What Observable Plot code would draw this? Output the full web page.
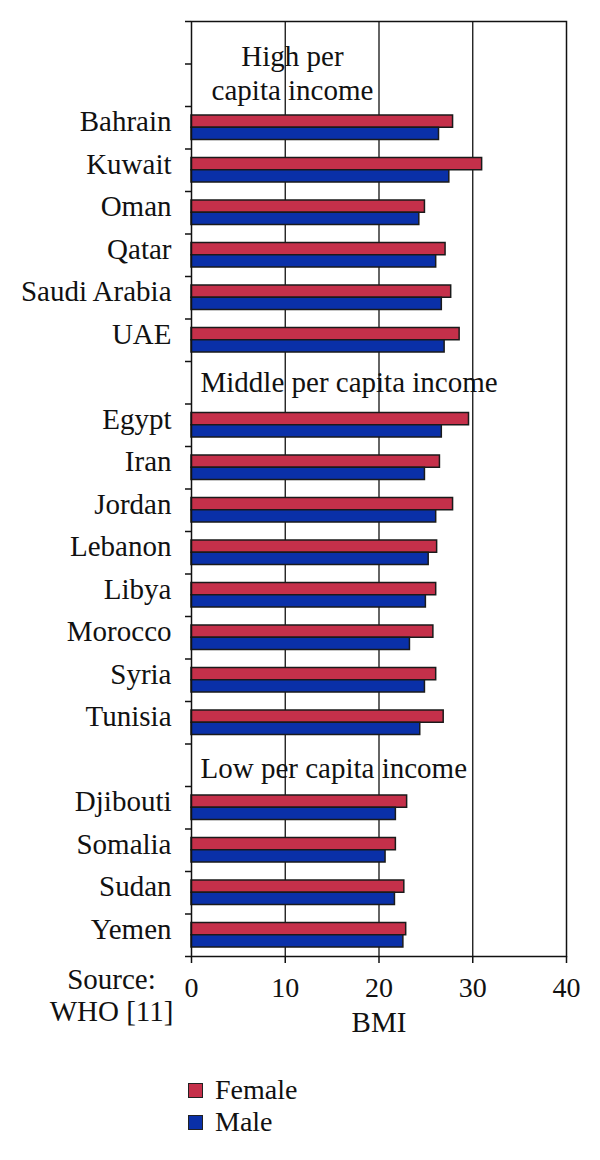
<!DOCTYPE html>
<html><head><meta charset="utf-8">
<script src="https://cdn.jsdelivr.net/npm/d3@7"></script>
<script src="https://cdn.jsdelivr.net/npm/@observablehq/plot@0.6"></script>
<style>
body{margin:0;background:#fff;font-family:"Liberation Serif",serif;}
#legend{margin-left:188px;margin-top:12px;font-size:28px;color:#111}
.item{display:flex;align-items:center;height:32px;line-height:32px}
.sw{width:13px;height:13px;border:1.5px solid #222;margin-right:12px;box-sizing:content-box}
</style></head><body><div id="chart"></div><div id="legend"></div>
<script>
const groupLabels = ["High per\ncapita income", "Middle per capita income", "Low per capita income"];
const highCountries = ["Bahrain", "Kuwait", "Oman", "Qatar", "Saudi Arabia", "UAE"];
const middleCountries = ["Egypt", "Iran", "Jordan", "Lebanon", "Libya", "Morocco", "Syria", "Tunisia"];
const lowCountries = ["Djibouti", "Somalia", "Sudan", "Yemen"];
const female = [27.9, 31.0, 24.9, 27.1, 27.7, 28.6, 29.6, 26.5, 27.9, 26.2, 26.1, 25.8, 26.1, 26.9, 23.0, 21.8, 22.7, 22.9];
const male   = [26.4, 27.5, 24.3, 26.1, 26.7, 27.0, 26.7, 24.9, 26.1, 25.3, 25.0, 23.3, 24.9, 24.4, 21.8, 20.7, 21.7, 22.6];
const xTicks = [0, 10, 20, 30, 40];
const seriesNames = ["Female", "Male"];
const seriesColors = ["#c5304a", "#0a30a8"];
const axisTitle = "BMI";
const sourceNote = "Source:\nWHO [11]";

const groupCountries = [highCountries, middleCountries, lowCountries];
const countries = groupCountries.flat();
const rows = countries.map((c, i) => ({country: c, female: female[i], male: male[i]}));

// build row slots (header rows + country rows)
const slots = [];
const headers = [];
groupLabels.forEach((g, i) => {
  const n = i === 0 ? 2 : 1;
  for (let k = 0; k < n; k++) slots.push(`hdr${i}_${k}`);
  headers.push({slot: `hdr${i}_${n - 1}`, label: g, group: i});
  groupCountries[i].forEach(c => slots.push(c));
});

const W = 600, H = 1062, mT = 21, mB = 106, mL = 191, mR = 34;
const band = (H - mT - mB) / slots.length;
const FS = 29, TFS = 28;

const chart = Plot.plot({
  width: W, height: H,
  marginTop: mT, marginBottom: mB, marginLeft: mL, marginRight: mR,
  style: {fontFamily: "Liberation Serif, serif", fontSize: FS + "px", color: "#111", background: "#fff", overflow: "visible"},
  x: {domain: [0, 40], axis: null},
  y: {type: "band", domain: slots, padding: 0, round: false, axis: null},
  marks: [
    Plot.gridX({ticks: [10, 20, 30], stroke: "#111", strokeOpacity: 1, strokeWidth: 1.3}),
    Plot.barX(rows, {y: "country", x: "female", fill: seriesColors[0], stroke: "#1a1a1a", strokeWidth: 1.5, insetTop: 9, insetBottom: band / 2}),
    Plot.barX(rows, {y: "country", x: "male", fill: seriesColors[1], stroke: "#1a1a1a", strokeWidth: 1.5, insetTop: band / 2, insetBottom: 9}),
    Plot.frame({stroke: "#111", strokeWidth: 1.5}),
    Plot.axisY({ticks: slots, tickSize: 6, tickFormat: () => "", dy: -band / 2, stroke: "#111", strokeWidth: 1.5, label: null}),
    Plot.axisY({ticks: [slots[slots.length - 1]], tickSize: 6, tickFormat: () => "", dy: band / 2, stroke: "#111", strokeWidth: 1.5, label: null}),
    Plot.axisY({ticks: countries, tickSize: 0, tickPadding: 20, dy: -6, fontSize: FS, fill: "#111", label: null}),
    Plot.axisX({ticks: xTicks, tickSize: 7, tickPadding: 14, fontSize: TFS, stroke: "#111", strokeWidth: 1.5, fill: "#111", label: null}),
    Plot.text(headers.filter(d => d.group === 0), {y: "slot", text: "label", frameAnchor: "left", dx: 101, dy: -band / 2 + 8, textAnchor: "middle", lineHeight: 1.18, fontSize: FS, fill: "#111"}),
    Plot.text(headers.filter(d => d.group === 1), {y: "slot", text: "label", frameAnchor: "left", dx: 9, dy: 0, textAnchor: "start", fontSize: FS, fill: "#111"}),
    Plot.text(headers.filter(d => d.group === 2), {y: "slot", text: "label", frameAnchor: "left", dx: 9, dy: 3, textAnchor: "start", fontSize: FS, fill: "#111"}),
    Plot.text([axisTitle], {text: d => d, frameAnchor: "bottom", dy: 75, fontSize: FS, fill: "#111"}),
    Plot.text([sourceNote], {text: d => d, frameAnchor: "bottom-left", dx: -80, dy: 64, lineHeight: 1.1, textAnchor: "middle", fontSize: FS, fill: "#111"})
  ]
});
document.getElementById("chart").appendChild(chart);

const legend = document.getElementById("legend");
seriesNames.forEach((name, i) => {
  const item = document.createElement("div");
  item.className = "item";
  const sw = document.createElement("span");
  sw.className = "sw";
  sw.style.background = seriesColors[i];
  const label = document.createElement("span");
  label.textContent = name;
  item.appendChild(sw);
  item.appendChild(label);
  legend.appendChild(item);
});
</script>
</body></html>
